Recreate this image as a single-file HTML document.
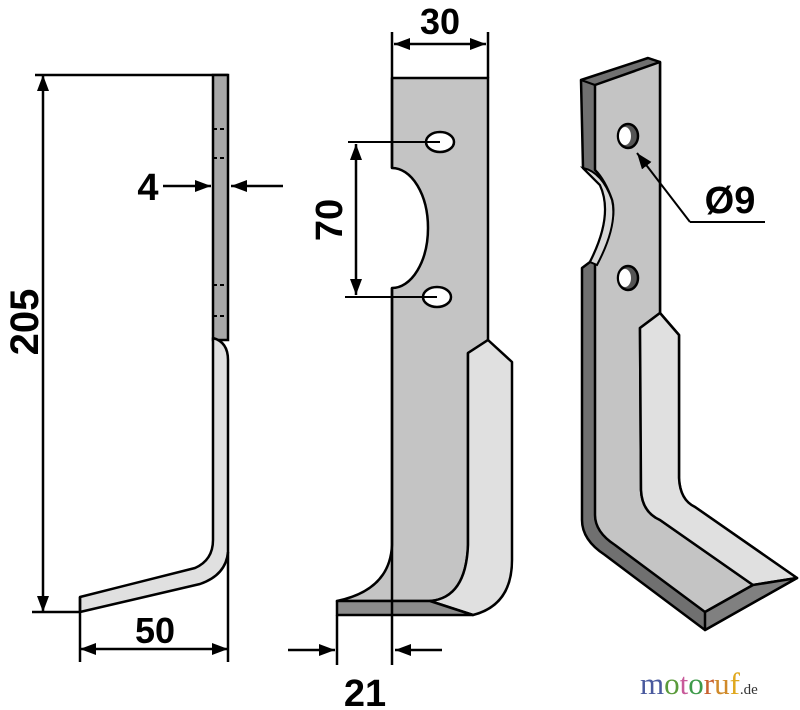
<!DOCTYPE html>
<html><head><meta charset="utf-8"><style>
html,body{margin:0;padding:0;background:#fff;}
svg{display:block;}
text{font-family:"Liberation Sans",Arial,sans-serif;font-weight:bold;fill:#000;}
</style></head><body>
<svg width="800" height="710" viewBox="0 0 800 710" xmlns="http://www.w3.org/2000/svg">
<defs>
<marker id="a2" viewBox="0 0 16 12" refX="16" refY="6" markerWidth="16" markerHeight="12" orient="auto-start-reverse" markerUnits="userSpaceOnUse"><path d="M0,0 L16,6 L0,12 Z" fill="#000"/></marker>
</defs>

<!-- LEFT VIEW -->
<g stroke="#000" stroke-width="2.5" fill="none">
<line x1="35" y1="75" x2="228" y2="75"/>
<line x1="32" y1="612" x2="80" y2="612"/>
<line x1="43" y1="75" x2="43" y2="612" marker-start="url(#a2)" marker-end="url(#a2)"/>
</g>
<rect x="213" y="75" width="15" height="265" fill="#a8a8a8" stroke="#000" stroke-width="2.5"/>
<g stroke="#000" stroke-width="2" stroke-dasharray="4,3">
<line x1="213" y1="129" x2="228" y2="129"/><line x1="213" y1="158" x2="228" y2="158"/>
<line x1="213" y1="285" x2="228" y2="285"/><line x1="213" y1="316" x2="228" y2="316"/>
</g>
<path d="M213,338 Q228,342 228,360 L228,552 Q226,575 200,584 L80,612 L80,597 L195,568 Q213,560 213,540 Z" fill="#e0e0e0" stroke="#000" stroke-width="2.5" stroke-linejoin="round"/>
<line x1="228" y1="552" x2="228" y2="662" stroke="#000" stroke-width="2.5"/>
<line x1="80" y1="597" x2="80" y2="662" stroke="#000" stroke-width="2.5"/>
<line x1="80" y1="649" x2="228" y2="649" stroke="#000" stroke-width="2.5" marker-start="url(#a2)" marker-end="url(#a2)"/>
<text x="155" y="643" font-size="36" text-anchor="middle">50</text>
<line x1="163" y1="186" x2="211" y2="186" stroke="#000" stroke-width="2.5" marker-end="url(#a2)"/>
<line x1="283" y1="186" x2="231" y2="186" stroke="#000" stroke-width="2.5" marker-end="url(#a2)"/>
<text x="148" y="200" font-size="38" text-anchor="middle">4</text>
<text transform="translate(38,322) rotate(-90)" font-size="40" text-anchor="middle">205</text>

<!-- MIDDLE VIEW -->
<path d="M392,78 L488,78 L488,340 L468,353 L468,545 Q466,598 430,601 L337,601 Q390,590 392,545 L392,288 A36,60 0 0 0 392,168 Z" fill="#c4c4c4" stroke="#000" stroke-width="2.5" stroke-linejoin="round"/>
<path d="M488,340 L512,362 L512,560 Q512,605 473,615 L430,601 Q466,598 468,545 L468,353 Z" fill="#e0e0e0" stroke="#000" stroke-width="2.5" stroke-linejoin="round"/>
<path d="M337,601 L430,601 L473,615 L337,615 Z" fill="#8c8c8c" stroke="#000" stroke-width="2.5" stroke-linejoin="round"/>
<line x1="392" y1="32" x2="392" y2="168" stroke="#000" stroke-width="2.5"/>
<line x1="392" y1="288" x2="392" y2="665" stroke="#000" stroke-width="2.5"/>
<line x1="488" y1="32" x2="488" y2="78" stroke="#000" stroke-width="2.5"/>
<line x1="394" y1="44" x2="486" y2="44" stroke="#000" stroke-width="2.5" marker-start="url(#a2)" marker-end="url(#a2)"/>
<text x="440" y="34" font-size="36" text-anchor="middle">30</text>
<ellipse cx="440" cy="142" rx="14" ry="10" fill="#fff" stroke="#000" stroke-width="2.5"/>
<ellipse cx="437" cy="297" rx="14" ry="10" fill="#fff" stroke="#000" stroke-width="2.5"/>
<line x1="348" y1="142" x2="440" y2="142" stroke="#000" stroke-width="2"/>
<line x1="345" y1="297" x2="437" y2="297" stroke="#000" stroke-width="2"/>
<line x1="356" y1="144" x2="356" y2="295" stroke="#000" stroke-width="2.5" marker-start="url(#a2)" marker-end="url(#a2)"/>
<text transform="translate(342,220) rotate(-90)" font-size="38" text-anchor="middle">70</text>
<line x1="337" y1="615" x2="337" y2="665" stroke="#000" stroke-width="2.5"/>
<line x1="288" y1="650" x2="335" y2="650" stroke="#000" stroke-width="2.5" marker-end="url(#a2)"/>
<line x1="442" y1="650" x2="395" y2="650" stroke="#000" stroke-width="2.5" marker-end="url(#a2)"/>
<text x="365" y="706" font-size="38" text-anchor="middle">21</text>

<!-- RIGHT VIEW -->
<path d="M581,80 L648,58 L660,62 L660,313 L679,335 L679,478 Q680,500 695,507 L797,578 L705,630 L605,555 Q582,540 582,520 L582,268 L590,262 Q614,215 600,185 L583,168 Z" fill="#707070" stroke="#000" stroke-width="2.5" stroke-linejoin="round"/>
<path d="M595,85 L660,62 L660,313 L640,328 L641,490 Q642,512 660,520 L753,585 L705,612 L615,545 Q595,532 595,515 L595,265 Q618,222 612,200 Q605,180 595,170 Z" fill="#c4c4c4" stroke="#000" stroke-width="2.5" stroke-linejoin="round"/>
<path d="M660,313 L679,335 L679,478 Q680,500 695,507 L797,578 L753,585 L660,520 Q642,512 641,490 L640,328 Z" fill="#e0e0e0" stroke="#000" stroke-width="2.5" stroke-linejoin="round"/>
<path d="M583,168 Q602,172 612,200 Q618,225 597,265 L590,262 Q614,215 600,185 Z" fill="#d8d8d8" stroke="#000" stroke-width="2"/>
<path d="M705,612 L753,585 L797,578 L705,630 Z" fill="#808080" stroke="#000" stroke-width="2.5" stroke-linejoin="round"/>
<line x1="595" y1="85" x2="581" y2="80" stroke="#000" stroke-width="2"/>
<line x1="660" y1="62" x2="648" y2="58" stroke="#000" stroke-width="2"/>
<ellipse cx="628" cy="136" rx="10" ry="12" fill="#555" stroke="#000" stroke-width="2.5"/>
<ellipse cx="625" cy="136" rx="6" ry="9" fill="#fff"/>
<ellipse cx="628" cy="278" rx="10" ry="12" fill="#555" stroke="#000" stroke-width="2.5"/>
<ellipse cx="625" cy="278" rx="6" ry="9" fill="#fff"/>
<polyline points="690,222 765,222" stroke="#000" stroke-width="2" fill="none"/>
<line x1="690" y1="222" x2="637" y2="153" stroke="#000" stroke-width="2" marker-end="url(#a2)"/>
<text x="730" y="213" font-size="38" text-anchor="middle">Ø9</text>

<!-- LOGO -->
<text x="640" y="694" font-size="31" style="font-family:'Liberation Serif',serif;font-weight:normal"><tspan fill="#4a5a9e">m</tspan><tspan fill="#5a9a3a">o</tspan><tspan fill="#c85a9a">t</tspan><tspan fill="#3e9a4a">o</tspan><tspan fill="#c8602e">r</tspan><tspan fill="#d08a2a">u</tspan><tspan fill="#e0a81e">f</tspan><tspan fill="#333" font-size="15">.de</tspan></text>
</svg>
</body></html>
